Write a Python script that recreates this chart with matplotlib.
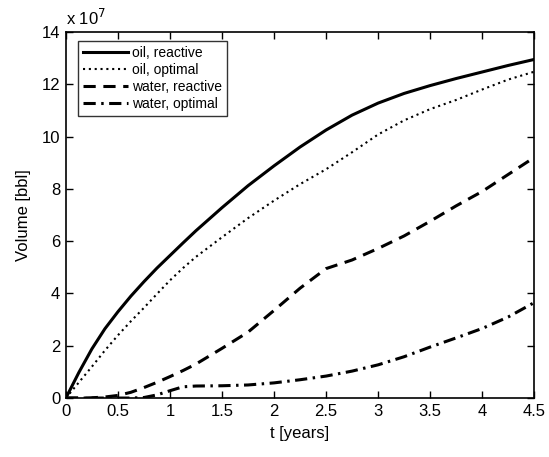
import matplotlib
matplotlib.use("Agg")
import matplotlib.pyplot as plt

# Time axis [years]
t_years = [0, 0.125, 0.25, 0.375, 0.5, 0.625, 0.75, 0.875, 1.0, 1.125, 1.25,
           1.5, 1.75, 2.0, 2.25, 2.5, 2.75, 3.0, 3.25, 3.5, 3.75, 4.0, 4.25, 4.5]

# Cumulative volumes, units of 1e7 bbl
oil_reactive = [0, 0.98, 1.88, 2.65, 3.3, 3.9, 4.45, 4.97, 5.45, 5.93, 6.4,
                7.28, 8.12, 8.88, 9.6, 10.25, 10.82, 11.28, 11.65, 11.95,
                12.22, 12.47, 12.72, 12.95]
oil_optimal = [0, 0.6, 1.2, 1.82, 2.4, 2.94, 3.45, 3.98, 4.5, 4.97, 5.4,
               6.15, 6.88, 7.55, 8.18, 8.75, 9.4, 10.08, 10.62, 11.05,
               11.4, 11.8, 12.18, 12.48]
water_reactive = [0, 0, 0.01, 0.04, 0.1, 0.22, 0.4, 0.6, 0.82, 1.05, 1.3,
                  1.9, 2.52, 3.35, 4.2, 4.95, 5.28, 5.72, 6.2, 6.76,
                  7.35, 7.9, 8.55, 9.2]
water_optimal = [0, 0, 0, 0, 0, 0, 0.02, 0.12, 0.28, 0.43, 0.46,
                 0.47, 0.5, 0.58, 0.7, 0.84, 1.03, 1.27, 1.58, 1.95,
                 2.3, 2.66, 3.1, 3.65]

SCALE = 1e7

plt.rcParams["font.family"] = ["Liberation Sans", "DejaVu Sans"]

fig = plt.figure(figsize=(5.49, 4.57), dpi=100)
ax = fig.add_axes([0.120, 0.129, 0.853, 0.801])

ax.plot(t_years, [v * SCALE for v in oil_reactive], color="black", lw=2.2,
        linestyle="-", label="oil, reactive")
ax.plot(t_years, [v * SCALE for v in oil_optimal], color="black", lw=1.5,
        linestyle=(0, (1, 1.8)), label="oil, optimal")
ax.plot(t_years, [v * SCALE for v in water_reactive], color="black", lw=2.2,
        linestyle=(0, (4, 2.5)), label="water, reactive")
ax.plot(t_years, [v * SCALE for v in water_optimal], color="black", lw=2.2,
        linestyle=(0, (4, 1.8, 0.8, 1.8)), label="water, optimal")

ax.set_xlim(0, 4.5)
ax.set_ylim(0, 14 * SCALE)
ax.set_xticks([0, 0.5, 1, 1.5, 2, 2.5, 3, 3.5, 4, 4.5])
ax.set_xticklabels(["0", "0.5", "1", "1.5", "2", "2.5", "3", "3.5", "4", "4.5"])
yt = [0, 2, 4, 6, 8, 10, 12, 14]
ax.set_yticks([v * SCALE for v in yt])
ax.set_yticklabels([str(v) for v in yt])
ax.tick_params(direction="in", top=True, right=True, length=5, width=1,
               labelsize=12, pad=4)
for sp in ax.spines.values():
    sp.set_linewidth(1.2)

ax.set_xlabel("t [years]", fontsize=12, labelpad=5)
ax.set_ylabel("Volume [bbl]", fontsize=12, labelpad=8)
ax.text(0.0, 1.012, r"x 10$^{7}$", transform=ax.transAxes, fontsize=12,
        ha="left", va="bottom")

leg = ax.legend(loc="upper left", fontsize=10, handlelength=3.2,
                frameon=True, fancybox=False, borderpad=0.4,
                labelspacing=0.2, handletextpad=0.3,
                bbox_to_anchor=(0.01, 0.995))
leg.get_frame().set_edgecolor("black")
leg.get_frame().set_linewidth(1.0)

fig.savefig("out.png", dpi=100)
